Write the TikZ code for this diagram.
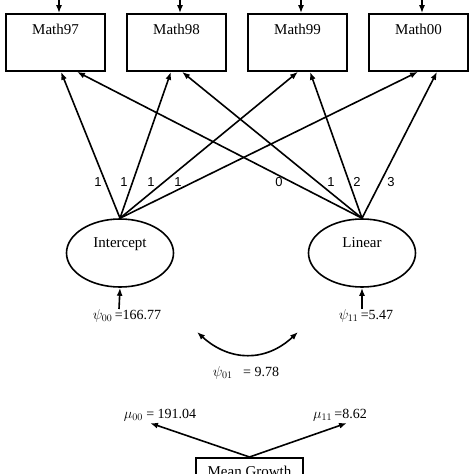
\documentclass[tikz,border=0pt]{standalone}
\usepackage{fontspec}
\setmainfont{Liberation Serif}
\newfontfamily\digitfont{Liberation Sans}
\usetikzlibrary{shapes.geometric,arrows.meta}
\begin{document}
\begin{tikzpicture}[x=1pt,y=-1pt,>={Latex[length=8pt,width=6pt]},line width=1.6pt,
  font=\fontsize{15}{18}\selectfont,
  measure/.style={draw,minimum width=99pt,inner xsep=0pt,inner ysep=10pt,
    text height=10.5pt,text depth=26.5pt},
  factor/.style={draw,ellipse,minimum width=107pt,minimum height=68pt,
    inner sep=0pt,text height=10pt,text depth=22pt},
  meanbox/.style={draw,minimum width=107pt,inner xsep=0pt,inner ysep=9pt,
    text height=10pt,text depth=8pt},
  est/.style={font=\fontsize{14}{16}\selectfont,inner sep=0pt},
  weight/.style={font=\digitfont\fontsize{13}{15}\selectfont,inner sep=0pt}]
\useasboundingbox (0,0) rectangle (474,474);
\clip (0,0) rectangle (474,474);

% observed scores
\node[measure] (m97) at (55.5,42.5) {Math97};
\node[measure] (m98) at (176.5,42.5) {Math98};
\node[measure] (m99) at (297.5,42.5) {Math99};
\node[measure] (m00) at (418.5,42.5) {Math00};
\foreach \m in {m97,m98,m99,m00}
  \draw [->] ([xshift=3.5pt,yshift=16pt]\m.north) -- ([xshift=3.5pt]\m.north);

% growth factors
\node[factor] (int) at (120,253) {Intercept};
\node[factor] (lin) at (362,253) {Linear};

\draw [->] (int.north) -- ([xshift=5.5pt]m97.south);
\draw [->] (int.north) -- ([xshift=-5.5pt]m98.south);
\draw [->] (int.north) -- ([xshift=0.5pt]m99.south);
\draw [->] (int.north) -- ([xshift=-0.5pt]m00.south);
\draw [->] (lin.north) -- ([xshift=21.5pt]m97.south);
\draw [->] (lin.north) -- ([xshift=5.5pt]m98.south);
\draw [->] (lin.north) -- ([xshift=12.5pt]m99.south);
\draw [->] (lin.north) -- ([xshift=18.5pt]m00.south);

\foreach \x/\t in {98/1,124/1,151/1,178/1,279/0,331/1,357/2,391/3}
  \node[weight] at (\x,182) {\t};

% variances
\coordinate (int-tail) at (119,309);
\coordinate (lin-tail) at (362,309);
\draw [->] (int-tail) -- (int.south);
\draw [->] (lin-tail) -- (lin.south);
\node[est] (psi00) at (127,316) {$\psi_{00}$\,=166.77};
\node[est] (psi11) at (366,316) {$\psi_{11}$\,=5.47};

% covariance
\coordinate (cov-l) at (197,332);
\coordinate (cov-r) at (298,332);
\draw [<->] (cov-l) .. controls (230,362) and (266,362) .. (cov-r);
\node[est] (psi01) at (246,373) {$\psi_{01}$\ \ \ = 9.78};

% means
\node[meanbox,anchor=north] (mean) at (249.5,457) {Mean Growth};
\coordinate (mu0-tip) at (150,423);
\coordinate (mu1-tip) at (347,423);
\draw [->] (mean.north) -- (mu0-tip);
\draw [->] (mean.north) -- (mu1-tip);
\node[est] (mu00) at (160,415) {$\mu_{00}$ = 191.04};
\node[est] (mu11) at (340,415) {$\mu_{11}$\,=8.62};
\end{tikzpicture}
\end{document}
